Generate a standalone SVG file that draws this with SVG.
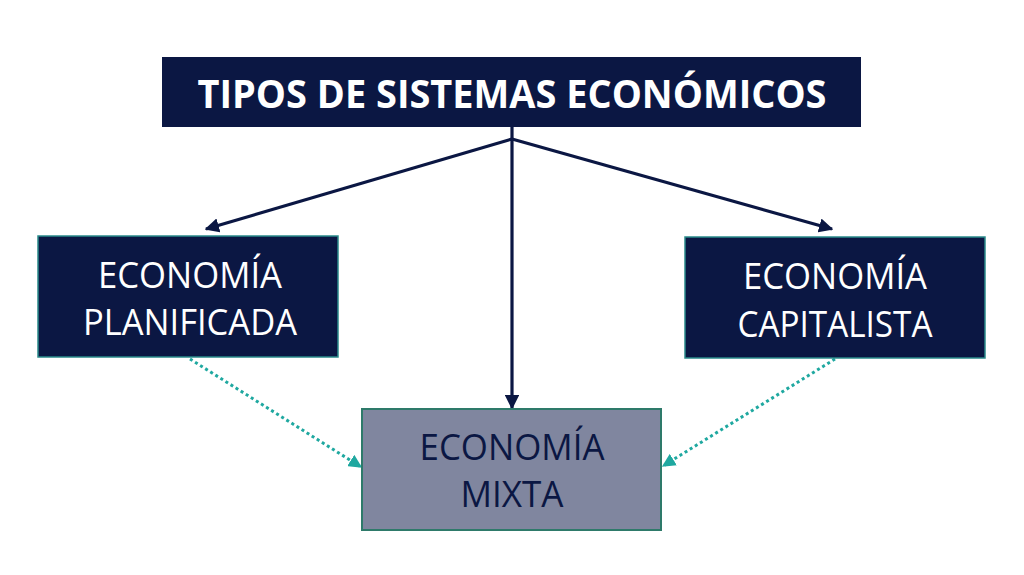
<svg xmlns="http://www.w3.org/2000/svg" width="1024" height="575" viewBox="0 0 1024 575">
<style>
.dark{fill:#0b1743;stroke:#2a8a8a;stroke-width:1.5}
.mix{fill:#80869f;stroke:#2e7a6a;stroke-width:2}
.t{font-family:"Open Sans","Liberation Sans",Arial,sans-serif;font-size:37px;text-anchor:middle}
.w{fill:#ffffff}
.k{fill:#0b1743}
.solid{stroke:#0b1743;stroke-width:3.2;fill:none}
.dot{stroke:#1fa8a0;stroke-width:3;fill:none;stroke-dasharray:3 3}
</style>
<defs>
<marker id="ah" viewBox="0 0 10 10" refX="9" refY="5" markerWidth="4.5" markerHeight="4.5" orient="auto" markerUnits="strokeWidth">
<path d="M0,0 L10,5 L0,10 z" fill="#0b1743"/>
</marker>
<marker id="at" viewBox="0 0 10 10" refX="9" refY="5" markerWidth="4.5" markerHeight="4.5" orient="auto" markerUnits="strokeWidth">
<path d="M0,0 L10,5 L0,10 z" fill="#1fa8a0"/>
</marker>
</defs>
<rect width="1024" height="575" fill="#ffffff"/>
<g id="connectors">
<line class="solid" x1="512" y1="127" x2="512" y2="408" marker-end="url(#ah)"/>
<line class="solid" x1="512" y1="139" x2="206" y2="229" marker-end="url(#ah)"/>
<line class="solid" x1="512" y1="139" x2="832" y2="229" marker-end="url(#ah)"/>
<line class="dot" x1="190" y1="359" x2="361" y2="467" marker-end="url(#at)"/>
<line class="dot" x1="835" y1="359" x2="663" y2="466" marker-end="url(#at)"/>
</g>
<g id="title">
<rect x="162" y="57" width="699" height="70" fill="#0b1743"/>
<text class="t w" x="512" y="108" font-weight="bold" textLength="629" lengthAdjust="spacingAndGlyphs" style="font-size:39px">TIPOS DE SISTEMAS ECONÓMICOS</text>
</g>
<g id="planificada">
<rect class="dark" x="38" y="236" width="300" height="121"/>
<text class="t w" x="190" y="288" textLength="184" lengthAdjust="spacingAndGlyphs">ECONOMÍA</text>
<text class="t w" x="190" y="335" textLength="214" lengthAdjust="spacingAndGlyphs">PLANIFICADA</text>
</g>
<g id="capitalista">
<rect class="dark" x="685" y="237" width="300" height="121"/>
<text class="t w" x="835" y="289" textLength="184" lengthAdjust="spacingAndGlyphs">ECONOMÍA</text>
<text class="t w" x="835" y="337" textLength="195" lengthAdjust="spacingAndGlyphs">CAPITALISTA</text>
</g>
<g id="mixta">
<rect class="mix" x="362" y="409" width="299" height="121"/>
<text class="t k" x="512" y="460" textLength="185" lengthAdjust="spacingAndGlyphs">ECONOMÍA</text>
<text class="t k" x="512" y="507" textLength="103" lengthAdjust="spacingAndGlyphs">MIXTA</text>
</g>
</svg>
